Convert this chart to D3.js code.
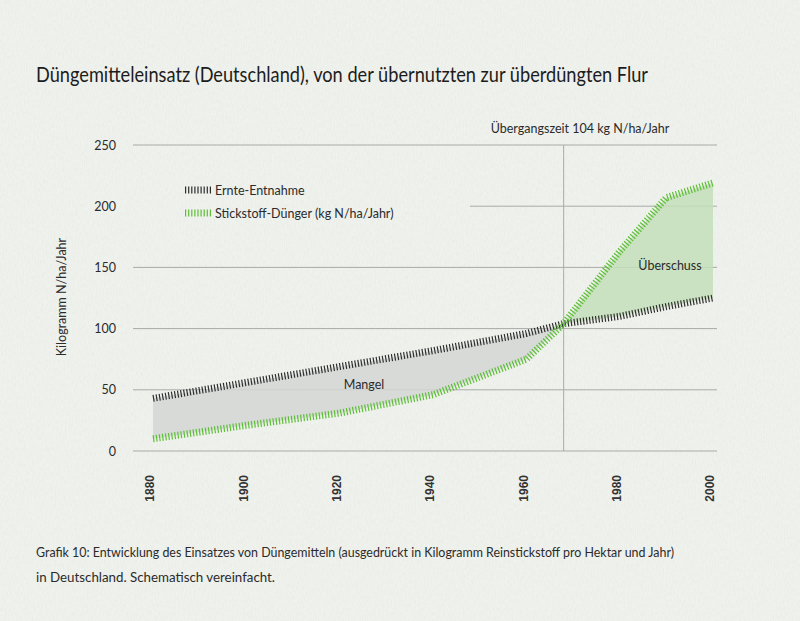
<!DOCTYPE html>
<html><head><meta charset="utf-8">
<script src="https://cdn.jsdelivr.net/npm/d3@7"></script>
<style>
html,body{margin:0;padding:0;background:#eff1ec;}
svg{display:block;}
text{font-family:Lato,"Open Sans",sans-serif;fill:#2b2b2b;}
</style></head><body>
<svg id="chart" width="800" height="621"></svg>
<script>
// ---- data ----
const years   = [1880, 1900, 1920, 1940, 1960, 1968, 1980, 1990, 2000];
const ernte   = [43, 56, 69, 82, 96, 104, 110, 118, 125];
const duenger = [10, 21, 31, 46, 75, 104, 163, 207, 219];
const crossYear = 1968;
const yTicks = [0, 50, 100, 150, 200, 250];
const xTicks = [1880, 1900, 1920, 1940, 1960, 1980, 2000];
const title = "Düngemitteleinsatz (Deutschland), von der übernutzten zur überdüngten Flur";
const caption1 = "Grafik 10: Entwicklung des Einsatzes von Düngemitteln (ausgedrückt in Kilogramm Reinstickstoff pro Hektar und Jahr)";
const caption2 = "in Deutschland. Schematisch vereinfacht.";
const yTitle = "Kilogramm N/ha/Jahr";
const legendLabels = ["Ernte-Entnahme", "Stickstoff-Dünger (kg N/ha/Jahr)"];
const crossLabel = "Übergangszeit 104 kg N/ha/Jahr";

const svg = d3.select("#chart");

// paper texture
const defs = svg.append("defs");
const f = defs.append("filter").attr("id","paper").attr("x",0).attr("y",0).attr("width","100%").attr("height","100%");
f.append("feTurbulence").attr("type","fractalNoise").attr("baseFrequency","0.9 0.25").attr("numOctaves",3).attr("seed",4);
f.append("feColorMatrix").attr("type","matrix").attr("values","0 0 0 0 0.5  0 0 0 0 0.5  0 0 0 0 0.5  0 0 0 -1.1 0.75");
svg.append("rect").attr("width",800).attr("height",621).attr("fill","#f0f2ed");
svg.append("rect").attr("width",800).attr("height",621).attr("filter","url(#paper)").attr("opacity",0.18);

const x = d3.scaleLinear().domain([1880, 2000]).range([153, 713]);
const y = d3.scaleLinear().domain([0, 250]).range([451, 145]);

const data = years.map((yr,i)=>({yr, e: ernte[i], d: duenger[i]}));

// gridlines
const grid = svg.append("g");
yTicks.forEach(t=>{
  grid.append("line")
    .attr("x1", t===200 ? 470 : 133).attr("x2", 717)
    .attr("y1", y(t)).attr("y2", y(t))
    .attr("stroke","#a9aba8").attr("stroke-width",1);
});
// vertical crossing line
svg.append("line").attr("x1", x(crossYear)).attr("x2", x(crossYear))
  .attr("y1", y(250)).attr("y2", y(0)).attr("stroke","#a9aba8").attr("stroke-width",1);

// areas
const area = d3.area().x(d=>x(d.yr)).y0(d=>y(d.e)).y1(d=>y(d.d));
svg.append("path").datum(data.filter(d=>d.yr<=crossYear)).attr("d", area)
  .attr("fill","#d3d6d5").attr("opacity",0.85);
svg.append("path").datum(data.filter(d=>d.yr>=crossYear)).attr("d", area)
  .attr("fill","#c3dfba").attr("opacity",0.85);

// hatched lines
const lineE = d3.line().x(d=>x(d.yr)).y(d=>y(d.e));
const lineD = d3.line().x(d=>x(d.yr)).y(d=>y(d.d));
function hatch(sel, color){
  return sel.attr("fill","none").attr("stroke",color).attr("stroke-width",7)
    .attr("stroke-dasharray","1.2,1.9").attr("stroke-linecap","butt").attr("stroke-linejoin","bevel");
}
hatch(svg.append("path").datum(data).attr("d", lineE), "#2e2e2e");
hatch(svg.append("path").datum(data).attr("d", lineD), "#5cbf36");

// y tick labels
svg.append("g").selectAll("text").data(yTicks).join("text")
  .attr("x",116).attr("y",d=>y(d)).attr("dy","0.36em").attr("text-anchor","end")
  .style("font-size","12.5px").text(d=>d);

// x tick labels
svg.append("g").selectAll("text").data(xTicks).join("text")
  .attr("transform",d=>`translate(${x(d)-3},475) rotate(-90)`)
  .attr("dy","0.35em").attr("text-anchor","end")
  .style("font-family","'Liberation Sans',Arial,sans-serif").style("font-weight","bold")
  .style("font-size","12px").style("fill","#333").text(d=>d);

// y axis title
svg.append("text").attr("transform","translate(66,297) rotate(-90)")
  .attr("text-anchor","middle").style("font-size","12.5px").text(yTitle);

// title (condensed look)
svg.append("text").attr("x",36).attr("y",82).style("font-size","21px").style("fill","#1c1c1c")
  .attr("textLength",612).attr("lengthAdjust","spacingAndGlyphs").text(title);

// crossing label
svg.append("text").attr("x", 580).attr("y",133).attr("text-anchor","middle")
  .style("font-size","12.5px").text(crossLabel);

// area labels
svg.append("text").attr("x",364).attr("y",389).attr("text-anchor","middle").style("font-size","12.5px").text("Mangel");
svg.append("text").attr("x",670).attr("y",270).attr("text-anchor","middle").style("font-size","12.5px").text("Überschuss");

// legend
const legColors = ["#2e2e2e","#5cbf36"];
legendLabels.forEach((lab,i)=>{
  const ly = 190 + i*23;
  hatch(svg.append("path").attr("d", `M185,${ly}H211`), legColors[i]);
  svg.append("text").attr("x",215).attr("y",ly).attr("dy","0.36em").style("font-size","12.5px").text(lab);
});

// caption (condensed look)
svg.append("text").attr("x",36).attr("y",557).style("font-size","13.5px")
  .attr("textLength",638).attr("lengthAdjust","spacingAndGlyphs").text(caption1);
svg.append("text").attr("x",36).attr("y",582).style("font-size","13.5px")
  .attr("textLength",239).attr("lengthAdjust","spacingAndGlyphs").text(caption2);
</script>
</body></html>
